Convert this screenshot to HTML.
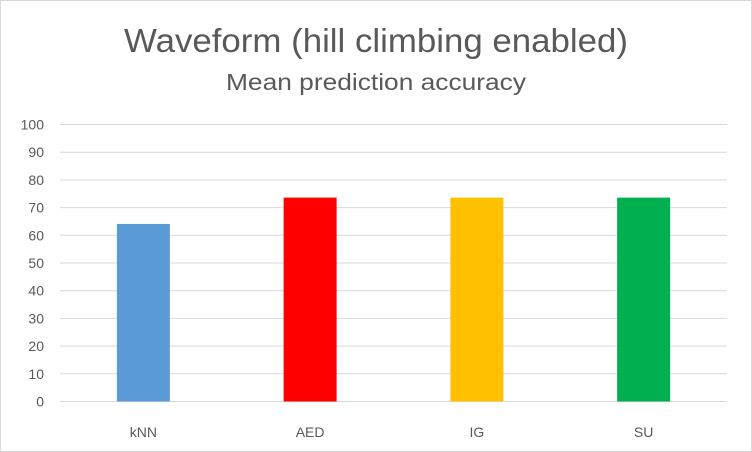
<!DOCTYPE html>
<html><head><meta charset="utf-8"><style>
body{margin:0;background:#fff;font-family:"Liberation Sans",sans-serif;}
#c{position:absolute;left:0;top:0;width:750px;height:450px;border:1px solid #d9d9d9;}
</style></head><body>
<div id="c">
<svg id="s" width="752" height="452" style="position:absolute;left:-1px;top:-1px">
<text x="376" y="52" text-anchor="middle" font-size="33" fill="#595959" textLength="504" lengthAdjust="spacingAndGlyphs">Waveform (hill climbing enabled)</text>
<text x="376" y="90" text-anchor="middle" font-size="23" fill="#595959" textLength="300" lengthAdjust="spacingAndGlyphs">Mean prediction accuracy</text>
<g id="grid"></g><g id="bars"></g><g id="labels"></g>
</svg></div>
<script>
const categories=["kNN","AED","IG","SU"];
const values=[64.1,73.6,73.6,73.6];
const colors=["#5b9bd5","#ff0000","#ffc000","#00b050"];
const ticks=[0,10,20,30,40,50,60,70,80,90,100];
const x0=60,x1=727,y0=401.5,yTop=124.5,maxV=100;
const yS=v=>y0-(v/maxV)*(y0-yTop);
const bw=(x1-x0)/categories.length;
const NS="http://www.w3.org/2000/svg";
const g=document.getElementById('grid'),b=document.getElementById('bars'),l=document.getElementById('labels');
function mk(t,a){const e=document.createElementNS(NS,t);for(const k in a)e.setAttribute(k,a[k]);return e;}
ticks.forEach(t=>{
 const y=yS(t);
 const ln=mk('line',{x1:x0,x2:x1,y1:y,y2:y,stroke:'#d9d9d9','stroke-width':1});
 
 
 g.appendChild(ln);
 const tx=mk('text',{x:44,y:y+5,'text-anchor':'end','font-size':14,fill:'#595959'});
 tx.textContent=t;
 
 
 l.appendChild(tx);
});
categories.forEach((c,i)=>{
 const cx=x0+bw*(i+0.5),w=53;
 const r=mk('rect',{x:cx-w/2,y:yS(values[i]),width:w,height:y0-yS(values[i]),fill:colors[i]});
 
 
 b.appendChild(r);
 const tx=mk('text',{x:cx,y:437,'text-anchor':'middle','font-size':14,fill:'#595959'});
 tx.textContent=c;
 
 
 l.appendChild(tx);
});
</script>
</body></html>
